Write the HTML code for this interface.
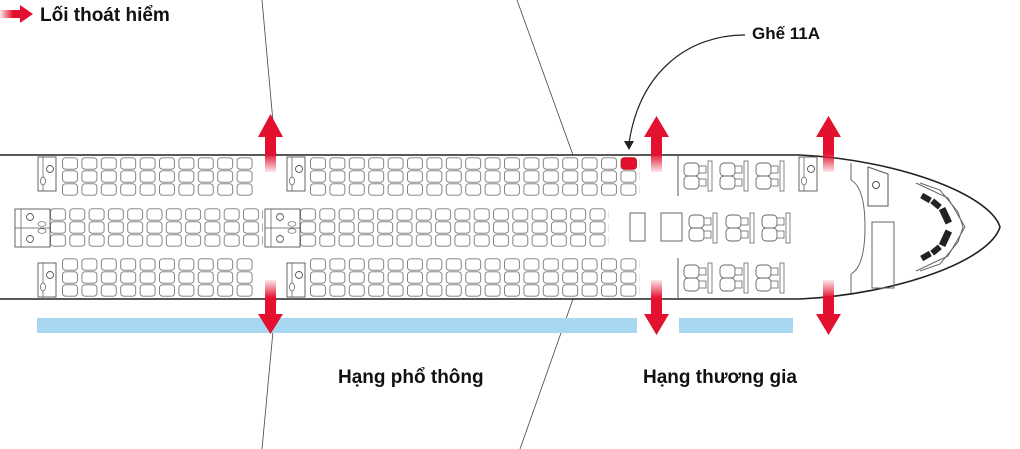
<!DOCTYPE html>
<html><head><meta charset="utf-8"><style>
html,body{margin:0;padding:0;background:#fff;}
svg{display:block;}
text{font-family:"Liberation Sans",sans-serif;font-weight:bold;fill:#111;}
</style></head><body>
<svg width="1020" height="449" viewBox="0 0 1020 449" xmlns="http://www.w3.org/2000/svg">
<defs>
<pattern id="seat" x="0" y="0" width="19.4" height="13" patternUnits="userSpaceOnUse">
<rect x="0.5" y="0.8" width="15" height="11.4" rx="3" fill="#fff" stroke="#777" stroke-width="0.9"/>
</pattern>
<pattern id="seatm" x="0" y="0" width="19.3" height="13" patternUnits="userSpaceOnUse">
<rect x="0.5" y="0.8" width="15" height="11.4" rx="3" fill="#fff" stroke="#777" stroke-width="0.9"/>
</pattern>
<linearGradient id="gup" x1="0" y1="0" x2="0" y2="1">
<stop offset="0" stop-color="#e3102f"/><stop offset="0.5" stop-color="#e3102f"/><stop offset="1" stop-color="#e3102f" stop-opacity="0.1"/></linearGradient>
<linearGradient id="gdn" x1="0" y1="1" x2="0" y2="0">
<stop offset="0" stop-color="#e3102f"/><stop offset="0.5" stop-color="#e3102f"/><stop offset="1" stop-color="#e3102f" stop-opacity="0.1"/></linearGradient>
<linearGradient id="glr" x1="0" y1="0" x2="1" y2="0">
<stop offset="0" stop-color="#e3102f" stop-opacity="0.1"/><stop offset="0.6" stop-color="#e3102f"/></linearGradient>
<g id="gal">
<rect x="0" y="0" width="18" height="34" fill="#fff" stroke="#555" stroke-width="0.9"/>
<line x1="5" y1="0" x2="5" y2="34" stroke="#555" stroke-width="0.7"/>
<circle cx="12" cy="12" r="3.5" fill="none" stroke="#555" stroke-width="0.9"/>
<ellipse cx="5" cy="24" rx="2.5" ry="4" fill="#fff" stroke="#555" stroke-width="0.7"/>
</g>
<g id="gal2">
<rect x="0" y="0" width="35" height="38" fill="#fff" stroke="#555" stroke-width="0.9"/>
<line x1="0" y1="19" x2="35" y2="19" stroke="#555" stroke-width="0.7"/>
<line x1="6" y1="0" x2="6" y2="38" stroke="#555" stroke-width="0.7"/>
<circle cx="15" cy="8" r="3.5" fill="none" stroke="#555" stroke-width="0.9"/>
<circle cx="15" cy="30" r="3.5" fill="none" stroke="#555" stroke-width="0.9"/>
<ellipse cx="27" cy="15" rx="4" ry="2.3" fill="#fff" stroke="#555" stroke-width="0.7"/>
<ellipse cx="27" cy="22" rx="4" ry="2.3" fill="#fff" stroke="#555" stroke-width="0.7"/>
</g>
<g id="biz">
<rect x="0" y="2" width="15" height="13" rx="4" fill="#fff" stroke="#666" stroke-width="0.9"/>
<rect x="0" y="15" width="15" height="13" rx="4" fill="#fff" stroke="#666" stroke-width="0.9"/>
<rect x="15" y="5" width="7" height="7" fill="#fff" stroke="#666" stroke-width="0.8"/>
<rect x="15" y="18" width="7" height="7" fill="#fff" stroke="#666" stroke-width="0.8"/>
<rect x="24" y="0" width="4" height="30" fill="#fff" stroke="#666" stroke-width="0.8"/>
</g>
</defs>

<g stroke="#444" stroke-width="0.8" fill="none">
<line x1="262" y1="0" x2="276" y2="155"/>
<line x1="517" y1="0" x2="573" y2="155"/>
<line x1="276" y1="299" x2="262" y2="449"/>
<line x1="573" y1="299" x2="520" y2="449"/>
</g>

<path d="M0 155 L800 155 C900 160 990 195 1000 227 C990 260 900 294 800 299 L0 299" fill="#fff" stroke="#222" stroke-width="1.6"/>

<!-- economy seats -->
<g transform="translate(62,157)"><rect width="194" height="39" fill="url(#seat)"/></g>
<g transform="translate(310,157)"><rect width="330" height="39" fill="url(#seat)"/></g>
<g transform="translate(50,208)"><rect width="213" height="39" fill="url(#seatm)"/></g>
<g transform="translate(300,208)"><rect width="309" height="39" fill="url(#seatm)"/></g>
<g transform="translate(62,258)"><rect width="194" height="39" fill="url(#seat)"/></g>
<g transform="translate(310,258)"><rect width="330" height="39" fill="url(#seat)"/></g>
<rect x="621.5" y="157.8" width="15" height="11.4" rx="3" fill="#e3102f" stroke="#c00" stroke-width="0.8"/>

<use href="#gal" x="38" y="157"/>
<use href="#gal" x="287" y="157"/>
<use href="#gal" x="38" y="263"/>
<use href="#gal" x="287" y="263"/>
<use href="#gal2" x="15" y="209"/>
<use href="#gal2" x="265" y="209"/>

<line x1="678" y1="155" x2="678" y2="196" stroke="#555"/>
<line x1="678" y1="258" x2="678" y2="299" stroke="#555"/>
<use href="#biz" x="684" y="161"/><use href="#biz" x="720" y="161"/><use href="#biz" x="756" y="161"/>
<use href="#biz" x="689" y="213"/><use href="#biz" x="726" y="213"/><use href="#biz" x="762" y="213"/>
<use href="#biz" x="684" y="263"/><use href="#biz" x="720" y="263"/><use href="#biz" x="756" y="263"/>
<rect x="630" y="213" width="15" height="28" fill="none" stroke="#666"/>
<rect x="661" y="213" width="21" height="28" fill="none" stroke="#666"/>
<use href="#gal" x="799" y="157"/>

<path d="M851 163 L851 180 C860 185 865 200 865 227 C865 254 860 269 851 274 L851 293" fill="none" stroke="#666"/>
<path d="M868 167 L888 174 L888 206 L868 206 Z" fill="#fff" stroke="#555"/>
<circle cx="876" cy="185" r="3.5" fill="none" stroke="#555"/>
<rect x="872" y="222" width="22" height="66" fill="none" stroke="#666"/>
<path d="M916 183 L948 198 L965 227 L948 256 L916 271" fill="none" stroke="#666"/>
<path d="M920 183 L940 190 L958 212 L963 227 L958 242 L940 264 L920 271" fill="none" stroke="#666"/>
<g fill="#222">
<rect x="921" y="195" width="10" height="6" transform="rotate(30 926 198)"/>
<rect x="931" y="201" width="10" height="6" transform="rotate(40 936 204)"/>
<rect x="942" y="208" width="7" height="16" transform="rotate(-25 945 216)"/>
<rect x="942" y="230" width="7" height="16" transform="rotate(25 945 238)"/>
<rect x="931" y="247" width="10" height="6" transform="rotate(-40 936 250)"/>
<rect x="921" y="253" width="10" height="6" transform="rotate(-30 926 256)"/>
</g>

<rect x="37" y="318" width="600" height="15" fill="#a8d7f1"/>
<rect x="679" y="318" width="114" height="15" fill="#a8d7f1"/>

<g>
<rect x="265" y="135" width="11" height="37" fill="url(#gup)"/><polygon points="258,137 283,137 270.5,114" fill="#e3102f"/>
<rect x="265" y="280" width="11" height="36" fill="url(#gdn)"/><polygon points="258,314 283,314 270.5,334" fill="#e3102f"/>
<rect x="651" y="135" width="11" height="37" fill="url(#gup)"/><polygon points="644,137 669,137 656.5,116" fill="#e3102f"/>
<rect x="651" y="280" width="11" height="36" fill="url(#gdn)"/><polygon points="644,314 669,314 656.5,335" fill="#e3102f"/>
<rect x="823" y="135" width="11" height="37" fill="url(#gup)"/><polygon points="816,137 841,137 828.5,116" fill="#e3102f"/>
<rect x="823" y="280" width="11" height="36" fill="url(#gdn)"/><polygon points="816,314 841,314 828.5,335" fill="#e3102f"/>
</g>

<path d="M745 35 C690 35 640 70 629 143" fill="none" stroke="#222" stroke-width="1.2"/>
<polygon points="624,141 634,141 629,150" fill="#222"/>

<rect x="0" y="10" width="22" height="8" fill="url(#glr)"/>
<polygon points="20,5 20,23 33,14" fill="#e3102f"/>

<text x="40" y="21" font-size="19">Lối thoát hiểm</text>
<text x="752" y="39" font-size="17">Ghế 11A</text>
<text x="338" y="383" font-size="19">Hạng phổ thông</text>
<text x="643" y="383" font-size="19">Hạng thương gia</text>
</svg>
</body></html>
